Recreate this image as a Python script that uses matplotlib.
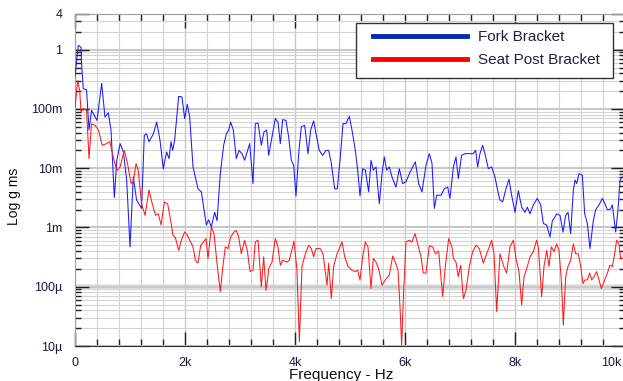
import numpy as np
import matplotlib.pyplot as plt
import matplotlib.transforms as mtransforms
from matplotlib.ticker import FixedLocator, MultipleLocator, LogLocator, NullFormatter
from matplotlib.lines import Line2D
from matplotlib.patches import Rectangle

plt.rcParams['font.family'] = ['Liberation Sans', 'DejaVu Sans']

# spectrum values (Hz, g rms)
fork_hz = [0, 30, 60, 110, 120, 150, 210, 255, 300, 350, 400, 485, 545, 605, 655, 715, 760, 820,
           880, 940, 1000, 1060, 1120, 1210, 1260, 1300, 1345, 1425, 1485, 1545, 1605, 1665, 1710,
           1745, 1776, 1812, 1885, 1945, 1994, 2042, 2085, 2146, 2236, 2297, 2345, 2388, 2430, 2479,
           2540, 2582, 2642, 2703, 2752, 2794, 2830, 2879, 2933, 2982, 3036, 3085, 3176, 3236, 3279,
           3327, 3388, 3436, 3485, 3521, 3582, 3642, 3691, 3733, 3776, 3836, 3885, 3933, 3976, 4018,
           4067, 4115, 4176, 4236, 4285, 4339, 4382, 4442, 4503, 4564, 4612, 4661, 4721, 4770, 4824,
           4873, 4927, 4988, 5036, 5097, 5139, 5182, 5230, 5279, 5339, 5382, 5424, 5473, 5533, 5582,
           5624, 5667, 5715, 5764, 5836, 5897, 5957, 6018, 6079, 6139, 6188, 6248, 6309, 6382, 6442,
           6491, 6533, 6576, 6654, 6715, 6776, 6818, 6879, 6927, 6970, 7030, 7091, 7182, 7242, 7285,
           7321, 7363, 7412, 7454, 7515, 7576, 7636, 7697, 7727, 7776, 7836, 7891, 7939, 8000, 8061,
           8121, 8182, 8224, 8273, 8333, 8406, 8467, 8515, 8576, 8636, 8679, 8721, 8757, 8818, 8873,
           8921, 8964, 9012, 9061, 9091, 9121, 9163, 9224, 9267, 9315, 9363, 9424, 9467, 9527, 9588,
           9636, 9679, 9727, 9770, 9830, 9873, 9909, 9951]
fork_g = [0.35, 0.66, 1.18, 1.1, 0.58, 0.22, 0.21, 0.044, 0.095, 0.078, 0.064, 0.27, 0.073, 0.086,
          0.044, 0.0032, 0.0135, 0.026, 0.0188, 0.0063, 0.00047, 0.0071, 0.0029, 0.0021, 0.036, 0.038,
          0.028, 0.038, 0.060, 0.030, 0.0098, 0.0188, 0.0145, 0.028, 0.020, 0.030, 0.163, 0.159, 0.069,
          0.12, 0.073, 0.0105, 0.0045, 0.0040, 0.0020, 0.0011, 0.00135, 0.00102, 0.0018, 0.0013,
          0.0081, 0.0244, 0.038, 0.044, 0.060, 0.044, 0.0145, 0.020, 0.0176, 0.0136, 0.026, 0.0055,
          0.0565, 0.058, 0.0244, 0.041, 0.044, 0.0165, 0.0337, 0.069, 0.060, 0.026, 0.066, 0.064,
          0.0337, 0.0136, 0.0112, 0.0034, 0.0176, 0.050, 0.053, 0.0176, 0.044, 0.063, 0.038, 0.020,
          0.0165, 0.020, 0.020, 0.012, 0.0045, 0.0045, 0.0155, 0.0565, 0.0565, 0.075, 0.044, 0.020,
          0.0093, 0.0034, 0.0098, 0.0093, 0.004, 0.0136, 0.0093, 0.0105, 0.0025, 0.0081, 0.0155,
          0.0093, 0.0105, 0.0071, 0.0048, 0.0098, 0.0055, 0.0059, 0.0081, 0.0105, 0.0128, 0.0055,
          0.004, 0.0112, 0.0176, 0.012, 0.0021, 0.0035, 0.0035, 0.0045, 0.0048, 0.0031, 0.0105,
          0.0155, 0.0067, 0.0165, 0.0176, 0.0176, 0.0176, 0.020, 0.0105, 0.0176, 0.0244, 0.0176,
          0.0098, 0.0105, 0.0071, 0.0037, 0.0029, 0.0027, 0.0045, 0.0065, 0.0035, 0.0018, 0.0042,
          0.0022, 0.0018, 0.0022, 0.0017, 0.0024, 0.0031, 0.0024, 0.00117, 0.0011, 0.00069, 0.0013,
          0.00147, 0.0017, 0.0016, 0.00084, 0.0016, 0.0018, 0.00079, 0.0043, 0.0063, 0.0055, 0.0081,
          0.0076, 0.0017, 0.00117, 0.00044, 0.0013, 0.002, 0.0024, 0.0031, 0.0025, 0.002, 0.002,
          0.0024, 0.00084, 0.002, 0.0063, 0.0071]

seat_hz = [0, 50, 85, 110, 150, 210, 255, 300, 365, 425, 495, 575, 635, 695, 760, 820, 895, 955,
           1020, 1060, 1110, 1150, 1210, 1275, 1345, 1405, 1465, 1515, 1565, 1625, 1685, 1740, 1782,
           1824, 1885, 1933, 1994, 2042, 2103, 2146, 2188, 2236, 2285, 2339, 2382, 2418, 2479, 2527,
           2588, 2642, 2691, 2733, 2782, 2830, 2891, 2933, 2976, 3024, 3085, 3133, 3182, 3236, 3279,
           3327, 3388, 3430, 3473, 3500, 3521, 3582, 3642, 3691, 3733, 3776, 3855, 3897, 3982, 4036,
           4079, 4127, 4188, 4248, 4297, 4339, 4382, 4460, 4509, 4582, 4612, 4661, 4703, 4764, 4855,
           4903, 4964, 5036, 5097, 5139, 5182, 5230, 5279, 5327, 5382, 5424, 5473, 5521, 5582, 5642,
           5715, 5776, 5824, 5873, 5909, 5939, 5976, 6018, 6079, 6127, 6182, 6230, 6291, 6333, 6382,
           6442, 6503, 6551, 6612, 6685, 6733, 6794, 6854, 6879, 6927, 6970, 7012, 7061, 7109, 7170,
           7230, 7291, 7351, 7424, 7485, 7533, 7576, 7618, 7667, 7727, 7788, 7848, 7909, 7970, 8018,
           8073, 8121, 8164, 8212, 8273, 8333, 8394, 8424, 8485, 8527, 8576, 8618, 8661, 8709, 8757,
           8800, 8842, 8879, 8921, 8964, 9012, 9061, 9103, 9151, 9194, 9236, 9273, 9315, 9357, 9394,
           9436, 9485, 9527, 9570, 9618, 9679, 9727, 9770, 9812, 9848, 9891, 9921, 9963]
seat_g = [0.108, 0.30, 0.206, 0.089, 0.101, 0.095, 0.0145, 0.056, 0.053, 0.044, 0.0244, 0.026,
          0.028, 0.0155, 0.0092, 0.0105, 0.020, 0.012, 0.0055, 0.0059, 0.012, 0.0092, 0.0025, 0.0016,
          0.0043, 0.0025, 0.0016, 0.0017, 0.0011, 0.0027, 0.0025, 0.0013, 0.00074, 0.00068, 0.00041,
          0.00061, 0.00084, 0.00074, 0.00057, 0.00047, 0.00028, 0.00025, 0.0005, 0.00057, 0.00065,
          0.0003, 0.00102, 0.00079, 0.00022, 0.000082, 0.00023, 0.00047, 0.00044, 0.00069, 0.00084,
          0.00089, 0.00069, 0.00036, 0.00061, 0.00041, 0.00018, 0.00019, 0.00057, 0.00061, 0.0001,
          0.00032, 0.000087, 0.00013, 0.0002, 0.00026, 0.00065, 0.00047, 0.00023, 0.00028, 0.00026,
          0.00028, 0.00059, 0.00019, 0.0000118, 0.00022, 0.00036, 0.0005, 0.00044, 0.00032, 0.00044,
          0.00044, 0.00036, 0.000106, 0.00025, 0.000063, 0.00022, 0.00036, 0.00057, 0.00032, 0.00022,
          0.00019, 0.00018, 0.00019, 0.00013, 0.00032, 0.00057, 0.00047, 0.000093, 0.0003, 0.00026,
          0.0002, 0.000106, 0.00013, 0.000158, 0.00033, 0.00026, 0.00019, 0.000046, 0.0000103,
          0.000087, 0.00057, 0.00061, 0.00057, 0.00079, 0.00053, 0.00032, 0.00017, 0.00017, 0.00049,
          0.00047, 0.00036, 0.0004, 0.000068, 0.00022, 0.00065, 0.00047, 0.0003, 0.00026, 0.000147,
          0.00023, 0.000063, 0.000087, 0.00022, 0.00039, 0.0005, 0.00044, 0.00025, 0.00036, 0.00047,
          0.00061, 0.00036, 0.000038, 0.00036, 0.00023, 0.00017, 0.00047, 0.00061, 0.0003, 0.00018,
          0.000049, 0.000147, 0.0002, 0.00032, 0.00039, 0.00061, 0.00047, 0.000068, 0.00022, 0.00041,
          0.00022, 0.00047, 0.00039, 0.00053, 0.00041, 0.00013, 0.0000225, 0.000147, 0.00022,
          0.00028, 0.00053, 0.00036, 0.00036, 0.00022, 0.000113, 0.00013, 0.00013, 0.00017, 0.00013,
          0.000147, 0.00018, 0.00013, 0.000093, 0.000121, 0.00017, 0.00023, 0.00022, 0.00036,
          0.00061, 0.00053, 0.0003, 0.0003]

y_ticks = [1e-5, 1e-4, 1e-3, 1e-2, 1e-1, 1, 4]
y_labels = ['10µ', '100µ', '1m', '10m', '100m', '1', '4']
x_ticks = [0, 2000, 4000, 6000, 8000, 10000]
x_labels = ['0', '2k', '4k', '6k', '8k', '10k']
series_names = ['Fork Bracket', 'Seat Post Bracket']

W, H = 623, 381
fig = plt.figure(figsize=(W / 100, H / 100), dpi=100)
ax = fig.add_axes([75 / W, 35 / H, 550 / W, 332 / H])

ax.plot(fork_hz, fork_g, color='#1a1aff', lw=0.75, zorder=3)
ax.plot(seat_hz, seat_g, color='#ff1a1a', lw=0.75, zorder=3)

ax.set_yscale('log')
ax.set_xlim(0, 10000)
ax.set_ylim(1e-5, 4)

# ticks
ax.xaxis.set_major_locator(FixedLocator(x_ticks))
ax.set_xticklabels(x_labels)
ax.xaxis.set_minor_locator(MultipleLocator(400))
ax.yaxis.set_major_locator(FixedLocator(y_ticks))
ax.set_yticklabels(y_labels)
ax.yaxis.set_minor_locator(LogLocator(base=10, subs=np.arange(2, 10)))
ax.yaxis.set_minor_formatter(NullFormatter())

ax.tick_params(which='both', direction='in', top=True, right=True, color='#202020',
               labelcolor='#1a1a40', labelsize=9)
ax.tick_params(axis='x', which='major', length=10, width=1, pad=8)
ax.tick_params(axis='x', which='minor', length=5, width=1)
ax.tick_params(axis='y', which='major', length=10, width=1, pad=9)
ax.tick_params(axis='y', which='minor', length=4.5, width=1)

# grid
ax.set_axisbelow(True)
ax.grid(which='minor', axis='both', color='#d4d4d4', lw=0.8)
ax.grid(which='major', axis='x', color='#c8c8c8', lw=1.0)
ax.grid(which='major', axis='y', color='#c8c8c8', lw=1.5)
ax.axhline(1e-4, color='#e0e0e0', lw=4, zorder=0.5)

for side in ['left', 'top', 'right']:
    ax.spines[side].set_color('#a0a0a0')
ax.spines['bottom'].set_color('#303030')

ax.set_ylabel('Log g ms', fontsize=10, color='#101010')
ax.yaxis.set_label_coords((21 - 75) / 550, 0.452)
ax.set_xlabel('Frequency - Hz', fontsize=11, color='#101010')
ax.xaxis.set_label_coords(0.4836, -0.067)

# legend box
box = Rectangle((356 / W, 1 - 78 / H), 257 / W, 55 / H, transform=fig.transFigure,
                facecolor='white', edgecolor='#333333', lw=1, zorder=4, clip_on=False)
ax.add_artist(box)
handles = [Line2D([], [], color='#0a28b4', lw=3.5), Line2D([], [], color='#ff0000', lw=3.5)]
ax.legend(handles, series_names, loc='upper left', bbox_to_anchor=(373 / W, 1 - 30 / H),
          bbox_transform=fig.transFigure, frameon=False, borderpad=0, borderaxespad=0,
          handlelength=94 / 15.28, handletextpad=11 / 15.28, labelspacing=0.6, fontsize=11,
          labelcolor='#202040')

# last x label sits at the edge, pull it inside
last = ax.xaxis.get_major_ticks()[-1].label1
last.set_horizontalalignment('right')
last.set_transform(last.get_transform() +
                   mtransforms.ScaledTranslation(-4 / 100, 0, fig.dpi_scale_trans))

fig.savefig('out.png', dpi=100)
